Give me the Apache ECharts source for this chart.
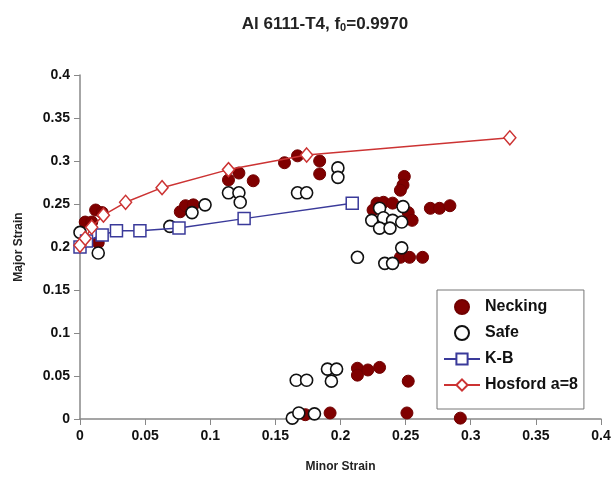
<!DOCTYPE html>
<html>
<head>
<meta charset="utf-8">
<script src="https://cdn.jsdelivr.net/npm/echarts@6/dist/echarts.min.js"></script>
<style>
    body{margin:0;background:#fff;}
    #chart{width:614px;height:484px;}
</style>
</head>
<body>
<div id="chart"></div>
<script>
    // points: [minor strain, major strain]
    var neckingPts = [
        [0.012, 0.243], [0.017, 0.240], [0.004, 0.229], [0.009, 0.229], [0.014, 0.205],
        [0.077, 0.241], [0.081, 0.248], [0.087, 0.249],
        [0.114, 0.278], [0.122, 0.286], [0.133, 0.277],
        [0.157, 0.298], [0.167, 0.306], [0.184, 0.300], [0.184, 0.285],
        [0.249, 0.282], [0.248, 0.272], [0.246, 0.266],
        [0.228, 0.251], [0.233, 0.252], [0.240, 0.251], [0.225, 0.243],
        [0.252, 0.240], [0.255, 0.231],
        [0.269, 0.245], [0.276, 0.245], [0.284, 0.248],
        [0.246, 0.188], [0.253, 0.188], [0.263, 0.188],
        [0.213, 0.059], [0.213, 0.051], [0.221, 0.057], [0.230, 0.060], [0.252, 0.044],
        [0.173, 0.005], [0.192, 0.007], [0.251, 0.007], [0.292, 0.001]
    ];
    var safePts = [
        [0.000, 0.217], [0.014, 0.193],
        [0.069, 0.224], [0.086, 0.240], [0.096, 0.249],
        [0.114, 0.263], [0.122, 0.263], [0.123, 0.252],
        [0.167, 0.263], [0.174, 0.263], [0.198, 0.292], [0.198, 0.281],
        [0.230, 0.245], [0.248, 0.247], [0.224, 0.231], [0.233, 0.234],
        [0.240, 0.231], [0.247, 0.229], [0.230, 0.222], [0.238, 0.222],
        [0.213, 0.188], [0.234, 0.181], [0.240, 0.181], [0.247, 0.199],
        [0.166, 0.045], [0.174, 0.045], [0.190, 0.058], [0.197, 0.058], [0.193, 0.044],
        [0.163, 0.001], [0.168, 0.007], [0.180, 0.006]
    ];
    var kbX = [0, 0.005, 0.017, 0.028, 0.046, 0.076, 0.126, 0.209];
    var kbY = [0.2, 0.207, 0.214, 0.219, 0.219, 0.222, 0.233, 0.251];
    var hosfordX = [0, 0.004, 0.009, 0.018, 0.035, 0.063, 0.114, 0.174, 0.330];
    var hosfordY = [0.202, 0.210, 0.223, 0.237, 0.252, 0.269, 0.290, 0.307, 0.327];

    function zip(xs, ys){
        return xs.map(function(x, i){ return [x, ys[i]]; });
    }

    var myChart = echarts.init(document.getElementById('chart'));
    var axisFont = {color:'#111', fontFamily:'Liberation Sans', fontWeight:'bold', fontSize:14};

    var option = {
        animation:false,
        backgroundColor:'#fff',
        title:{
            text:'{m|Al 6111-T4, f}{s|0}{m|=0.9970}',
            left:320,
            top:9,
            textAlign:'center',
            textStyle:{
                rich:{
                    m:{fontFamily:'Liberation Sans', fontWeight:'bold', fontSize:17, color:'#222', lineHeight:20},
                    s:{fontFamily:'Liberation Sans', fontWeight:'bold', fontSize:11, color:'#222', lineHeight:20, padding:[8,0,0,0]}
                }
            }
        },
        grid:{left:80, right:13, top:75, bottom:65},
        legend:{
            orient:'vertical',
            left:437,
            top:290,
            itemGap:10,
            itemWidth:36,
            itemHeight:14,
            padding:[9,6,16,6],
            borderColor:'#777',
            borderWidth:1,
            backgroundColor:'#fff',
            textStyle:{fontFamily:'Liberation Sans', fontWeight:'bold', fontSize:16, color:'#111'},
            data:['Necking','Safe','K-B','Hosford a=8']
        },
        xAxis:{
            type:'value',
            min:0, max:0.4, interval:0.05,
            name:'Minor Strain',
            nameLocation:'middle',
            nameGap:42,
            nameTextStyle:{fontFamily:'Liberation Sans', fontWeight:'bold', fontSize:12, color:'#222'},
            axisLine:{show:true, lineStyle:{color:'#888', width:1.5}},
            axisTick:{show:true, length:6, lineStyle:{color:'#888'}},
            axisLabel:Object.assign({margin:10}, axisFont),
            splitLine:{show:false}
        },
        yAxis:{
            type:'value',
            min:0, max:0.4, interval:0.05,
            name:'Major Strain',
            nameLocation:'middle',
            nameGap:55,
            nameTextStyle:{fontFamily:'Liberation Sans', fontWeight:'bold', fontSize:12, color:'#222'},
            axisLine:{show:true, lineStyle:{color:'#888', width:1.5}},
            axisTick:{show:true, length:6, lineStyle:{color:'#888'}},
            axisLabel:Object.assign({margin:10}, axisFont),
            splitLine:{show:false}
        },
        series:[
            {
                name:'Necking',
                type:'scatter',
                symbol:'circle',
                symbolSize:12,
                itemStyle:{color:'#800000', borderColor:'#700000', borderWidth:1, opacity:1},
                data:neckingPts
            },
            {
                name:'Safe',
                type:'scatter',
                symbol:'circle',
                symbolSize:12,
                itemStyle:{color:'#fff', borderColor:'#111', borderWidth:1.6, opacity:1},
                data:safePts
            },
            {
                name:'K-B',
                type:'line',
                symbol:'rect',
                symbolSize:12,
                showAllSymbol:true,
                lineStyle:{color:'#3a3a9a', width:1.5},
                itemStyle:{color:'#fff', borderColor:'#3a3a9a', borderWidth:1.5},
                data:zip(kbX, kbY)
            },
            {
                name:'Hosford a=8',
                type:'line',
                symbol:'diamond',
                symbolSize:[12, 14],
                showAllSymbol:true,
                lineStyle:{color:'#cc3333', width:1.5},
                itemStyle:{color:'#fff', borderColor:'#cc3333', borderWidth:1.5},
                data:zip(hosfordX, hosfordY)
            }
        ]
    };
    myChart.setOption(option, true);
</script>
</body>
</html>
